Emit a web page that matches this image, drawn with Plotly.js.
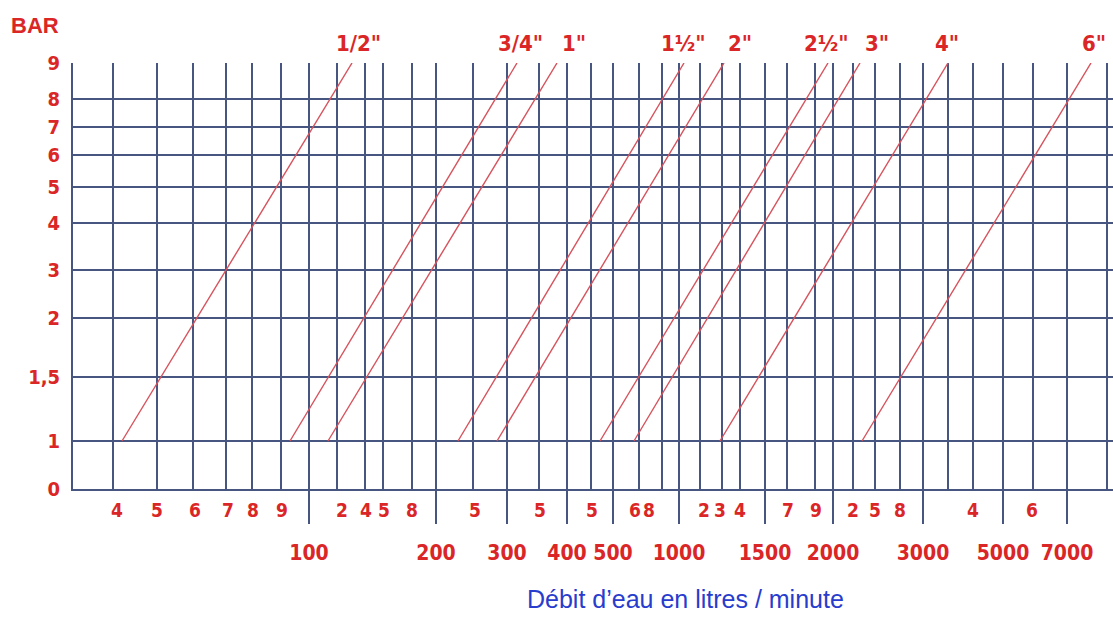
<!DOCTYPE html>
<html>
<head>
<meta charset="utf-8">
<script src="https://cdn.plot.ly/plotly-3.0.1.min.js"></script>
<style>html,body{margin:0;padding:0;background:#fff;}#chart{width:1113px;height:617px;}</style>
</head>
<body>
<div id="chart"></div>
<script>
// ---- Data (chart units on a hand-drawn nomogram scale) ----
// Pressure axis (BAR): labels and their positions on the nomogram scale
var barLabels = ['0', '1', '1,5', '2', '3', '4', '5', '6', '7', '8', '9'];
var barValues = [0, 1, 1.5, 2, 3, 4, 5, 6, 7, 8, 9];
var barPos    = [0, 48, 112, 171, 219, 266, 302, 334, 362, 390, 426];

// Flow axis: vertical grid line positions
var flowGrid = [73, 113, 157, 193, 226, 252, 281, 309, 337, 365, 383, 412, 436, 473, 507, 539,
                567, 591, 613, 639, 662, 679, 700, 722, 740, 765, 787, 815, 833, 853, 875, 900,
                923, 948, 973, 1003, 1033, 1067, 1107];
// Major flow ticks (long ticks) and labels
var flowMajorPos  = [309, 436, 507, 567, 613, 679, 765, 833, 923, 1003, 1067];
var flowMajorText = ['100', '200', '300', '400', '500', '1000', '1500', '2000', '3000', '5000', '7000'];
// Minor flow labels (first row)
var flowMinorPos  = [117, 157, 195, 228, 253, 282, 342, 366, 384, 412, 475, 540, 592, 635, 649,
                     704, 720, 740, 788, 816, 853, 875, 900, 973, 1032];
var flowMinorText = ['4', '5', '6', '7', '8', '9', '2', '4', '5', '8', '5', '5', '5', '6', '8',
                     '2', '3', '4', '7', '9', '2', '5', '8', '4', '6'];

// Pipe diameters: flow position at 1 bar and at 9 bar
var pipeNames  = ['1/2"', '3/4"', '1"', '1½"', '2"', '2½"', '3"', '4"', '6"'];
var pipeAt1Bar = [122, 290, 328, 458, 497, 600, 634, 720, 862];
var pipeAt9Bar = [352, 517, 557, 684, 724, 828, 860, 948, 1091];
var pipeLabelPos = [358, 520, 574, 683, 740, 826, 877, 947, 1094];

// ---- Helpers ----
function barToPos(b) { return barPos[barValues.indexOf(b)]; }
var yTop = barPos[barPos.length - 1];

var red = 'rgb(218,38,38)';
var gridCol = 'rgb(70,86,128)';
var narrow = '"Liberation Sans Narrow", "DejaVu Sans Condensed", "Arial Narrow", sans-serif';

var traces = [];
for (var i = 0; i < pipeNames.length; i++) {
  traces.push({
    type: 'scatter', mode: 'lines',
    x: [pipeAt1Bar[i], pipeAt9Bar[i]],
    y: [barToPos(1), barToPos(9)],
    line: {color: 'rgb(214,82,92)', width: 1.4},
    name: pipeNames[i], hoverinfo: 'name', showlegend: false
  });
}
// invisible traces to anchor overlay axes
traces.push({type: 'scatter', mode: 'markers', x: [600], y: [200], xaxis: 'x2', marker: {opacity: 0}, showlegend: false, hoverinfo: 'skip'});
traces.push({type: 'scatter', mode: 'markers', x: [600], y: [200], xaxis: 'x3', marker: {opacity: 0}, showlegend: false, hoverinfo: 'skip'});

var xRange = [73, 1113];
var annotations = [];
for (var j = 0; j < pipeNames.length; j++) {
  annotations.push({
    x: pipeLabelPos[j], y: 446 / yTop, xref: 'x', yref: 'paper', text: pipeNames[j], showarrow: false,
    font: {family: narrow, size: 22, color: red, weight: 'bold'}, xanchor: 'center', yanchor: 'middle'
  });
}
annotations.push({x: (35 - xRange[0]) / (xRange[1] - xRange[0]), y: 463 / yTop, xref: 'paper', yref: 'paper', text: 'BAR', showarrow: false,
  font: {family: 'Liberation Sans, Arial, sans-serif', size: 22, color: red, weight: 'bold'}, xanchor: 'center', yanchor: 'middle'});
annotations.push({x: 685, y: -110 / yTop, xref: 'x', yref: 'paper', text: 'Débit d\u2019eau en litres / minute', showarrow: false,
  font: {family: 'Liberation Sans, Arial, sans-serif', size: 25, color: 'rgb(40,60,205)'}, xanchor: 'center', yanchor: 'middle'});

var layout = {
  width: 1113, height: 617,
  margin: {l: 73, r: 0, t: 63, b: 128, pad: 0},
  paper_bgcolor: '#ffffff', plot_bgcolor: '#ffffff',
  showlegend: false,
  xaxis: {
    range: xRange, tickmode: 'array', tickvals: flowGrid, showticklabels: false, ticks: '',
    showgrid: true, gridcolor: gridCol, gridwidth: 2, zeroline: false,
    showline: true, linecolor: gridCol, linewidth: 2, fixedrange: true
  },
  xaxis2: {
    overlaying: 'x', anchor: 'y', side: 'bottom', range: xRange,
    tickmode: 'array', tickvals: flowMajorPos, ticktext: flowMajorText,
    ticks: 'outside', ticklen: 34, tickwidth: 2, tickcolor: gridCol, ticklabelstandoff: 11,
    showgrid: false, zeroline: false, showline: false,
    tickfont: {family: narrow, size: 21, color: red, weight: 'bold'}, fixedrange: true
  },
  xaxis3: {
    overlaying: 'x', anchor: 'y', side: 'bottom', range: xRange,
    tickmode: 'array', tickvals: flowMinorPos, ticktext: flowMinorText,
    ticks: '', showgrid: false, zeroline: false, showline: false, ticklabelstandoff: 8,
    tickfont: {family: narrow, size: 19, color: red, weight: 'bold'}, fixedrange: true
  },
  yaxis: {
    range: [0, yTop], tickmode: 'array', tickvals: barPos, ticktext: barLabels,
    ticks: '', ticklabelstandoff: 7,
    showgrid: true, gridcolor: gridCol, gridwidth: 2, zeroline: false,
    showline: true, linecolor: gridCol, linewidth: 2,
    tickfont: {family: narrow, size: 20, color: red, weight: 'bold'}, fixedrange: true
  },
  annotations: annotations
};

Plotly.newPlot('chart', traces, layout, {displayModeBar: false, staticPlot: true});
</script>
</body>
</html>
